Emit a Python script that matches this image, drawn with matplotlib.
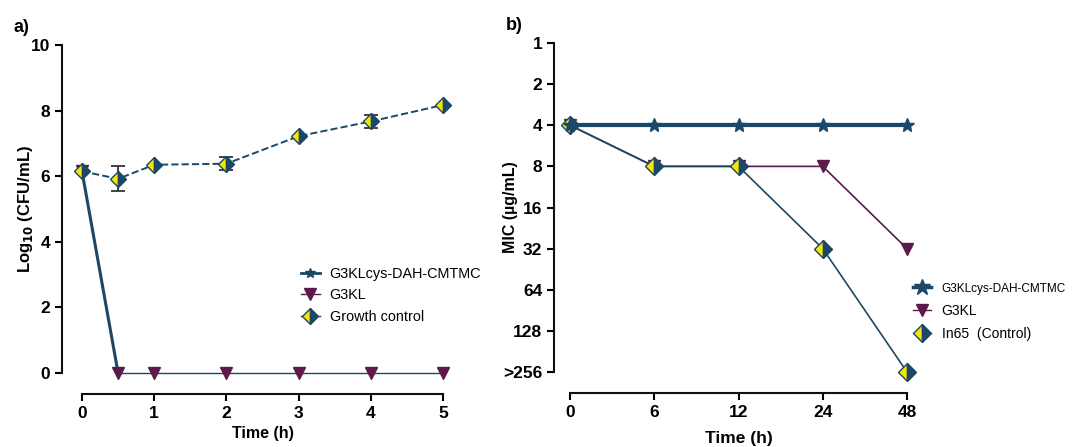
import numpy as np
import matplotlib
matplotlib.use("Agg")
import matplotlib.pyplot as plt
from matplotlib.lines import Line2D

plt.rcParams['font.family'] = ['Liberation Sans', 'DejaVu Sans']

# panel a: time-kill data
time_a = [0, 0.5, 1, 2, 3, 4, 5]
cys_a = [6.15, 0, 0, 0, 0, 0, 0]
g3kl_a = [6.15, 0, 0, 0, 0, 0, 0]
growth_a = [6.15, 5.92, 6.35, 6.38, 7.22, 7.67, 8.17]
growth_err = [0, 0.38, 0, 0.2, 0, 0.2, 0]

# panel b: MIC over time (index on category axis)
time_b = ['0', '6', '12', '24', '48']
mic_labels = ['1', '2', '4', '8', '16', '32', '64', '128', '>256']
cys_b = ['4', '4', '4', '4', '4']
g3kl_b = ['4', '8', '8', '8', '32']
in65_b = ['4', '8', '8', '32', '>256']

navy = '#1b4868'
purple = '#5c1a4a'
yellow = '#f7e600'
px = 72 / 100  # pixels -> points

fig = plt.figure(figsize=(10.83, 4.47), dpi=100)

# ---- panel a ----
ax1 = fig.add_axes([82 / 1083, 74 / 447, 361 / 1083, 328 / 447])
ax1.plot(time_a[:2], cys_a[:2], color=navy, lw=2.2, zorder=3, clip_on=False)
ax1.plot(time_a[1:], cys_a[1:], color=navy, lw=1.0, zorder=3, clip_on=False)
ax1.plot(time_a, g3kl_a, ls='none', marker='v', ms=8, color=purple, zorder=4, clip_on=False)
ax1.errorbar(time_a, growth_a, yerr=growth_err, color=navy, ls='--', lw=1.4,
             ecolor='#333333', elinewidth=1.3, capsize=5, capthick=1.3, zorder=2)
ax1.plot(time_a, growth_a, ls='none', marker='D', ms=8, fillstyle='left',
         markerfacecolor=yellow, markerfacecoloralt=navy, markeredgecolor=navy,
         markeredgewidth=1, zorder=5, clip_on=False)
ax1.set_xlim(0, 5)
ax1.set_ylim(0, 10)
ax1.set_xticks([0, 1, 2, 3, 4, 5])
ax1.set_yticks([0, 2, 4, 6, 8, 10])
ax1.spines['left'].set_position(('outward', 20 * px))
ax1.spines['bottom'].set_position(('outward', 21 * px))
ax1.set_xlabel('Time (h)', fontsize=11.5, fontweight='bold', labelpad=4)
ax1.set_ylabel('Log$_{\\mathbf{10}}$ (CFU/mL)', fontsize=12, fontweight='bold')
ax1.yaxis.set_label_coords(-0.13, 0.5)
ax1.text(-0.19, 1.04, 'a)', transform=ax1.transAxes, fontsize=13, fontweight='bold')

h1 = [Line2D([], [], color=navy, lw=2, marker='*', ms=7),
      Line2D([], [], color=purple, lw=1, marker='v', ms=8),
      Line2D([], [], color=navy, lw=1, marker='D', ms=8, fillstyle='left',
             markerfacecolor=yellow, markerfacecoloralt=navy, markeredgecolor=navy)]
ax1.legend(h1, ['G3KLcys-DAH-CMTMC', 'G3KL', 'Growth control'], loc='upper left',
           bbox_to_anchor=(0.59, 0.34), frameon=False, fontsize=10.4,
           handlelength=1.3, handletextpad=0.7, labelspacing=0.5, borderaxespad=0)

# ---- panel b ----
ax2 = fig.add_axes([570 / 1083, 75 / 447, 337 / 1083, 329 / 447])
xb = np.arange(len(time_b))
yidx = {m: i for i, m in enumerate(mic_labels)}
ax2.plot(xb, [yidx[v] for v in g3kl_b], color=purple, lw=1.2, marker='v', ms=9,
         zorder=3, clip_on=False)
ax2.plot(xb, [yidx[v] for v in in65_b], color=navy, lw=1.2, marker='D', ms=9,
         fillstyle='left', markerfacecolor=yellow, markerfacecoloralt=navy,
         markeredgecolor=navy, markeredgewidth=1, zorder=4, clip_on=False)
ax2.plot(xb, [yidx[v] for v in cys_b], color=navy, lw=3, marker='*', ms=10,
         zorder=5, clip_on=False)
ax2.set_xlim(0, len(time_b) - 1)
ax2.set_ylim(len(mic_labels) - 1, 0)
ax2.set_xticks(xb)
ax2.set_xticklabels(time_b)
ax2.set_yticks(range(len(mic_labels)))
ax2.set_yticklabels(mic_labels)
ax2.spines['left'].set_position(('outward', 16 * px))
ax2.spines['bottom'].set_position(('outward', 21 * px))
ax2.set_xlabel('Time (h)', fontsize=12.5, fontweight='bold', labelpad=8)
ax2.set_ylabel('MIC (µg/mL)', fontsize=11.5, fontweight='bold')
ax2.yaxis.set_label_coords(-0.155, 0.5)
ax2.text(-0.19, 1.04, 'b)', transform=ax2.transAxes, fontsize=13, fontweight='bold')

h2 = [Line2D([], [], color=navy, lw=2.5, marker='*', ms=12),
      Line2D([], [], color=purple, lw=1, marker='v', ms=9),
      Line2D([], [], color=navy, lw=1, marker='D', ms=9, fillstyle='left',
             markerfacecolor=yellow, markerfacecoloralt=navy, markeredgecolor=navy)]
leg2 = ax2.legend(h2, ['G3KLcys-DAH-CMTMC', 'G3KL', 'In65  (Control)'], loc='upper left',
                  bbox_to_anchor=(1.0, 0.29), frameon=False, fontsize=10,
                  handlelength=1.3, labelspacing=0.65, borderaxespad=0)
leg2.get_texts()[0].set_fontsize(8.5)

for ax in (ax1, ax2):
    ax.spines['top'].set_visible(False)
    ax.spines['right'].set_visible(False)
    ax.spines['left'].set_linewidth(1.5)
    ax.spines['bottom'].set_linewidth(1.5)
    ax.tick_params(width=1.5, length=5, labelsize=12.5)
    for lab in ax.get_xticklabels() + ax.get_yticklabels():
        lab.set_fontweight('bold')
    for sp in ax.spines.values():
        sp.set_color('#111111')

fig.savefig('out.png', dpi=100)
